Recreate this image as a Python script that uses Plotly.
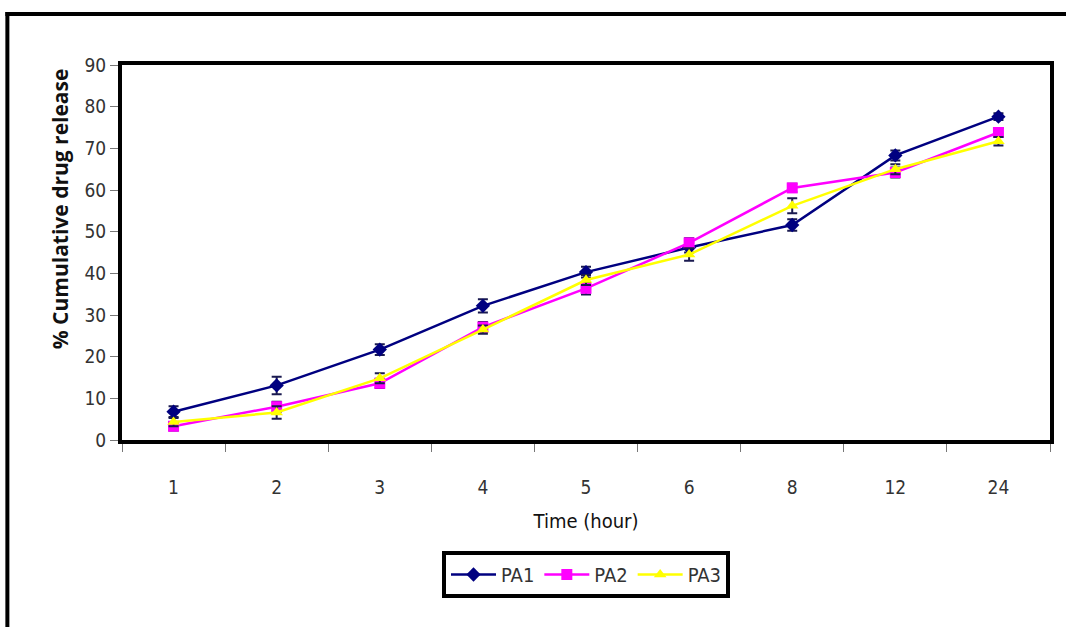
import plotly.graph_objects as go

time_labels = ["1", "2", "3", "4", "5", "6", "8", "12", "24"]
pa1 = [6.8, 13.1, 21.7, 32.2, 40.3, 46.2, 51.6, 68.3, 77.6]
pa2 = [3.3, 8.0, 13.6, 27.1, 36.4, 47.3, 60.5, 64.2, 73.8]
pa3 = [4.3, 6.6, 14.8, 26.5, 38.4, 44.5, 56.2, 65.0, 71.7]
pa1_err = [1.3, 2.1, 1.3, 1.6, 1.3, 1.2, 1.4, 1.2, 0.8]
pa2_err = [1.0, 1.2, 1.1, 1.2, 1.5, 1.1, 1.0, 1.2, 1.0]
pa3_err = [1.0, 1.5, 1.2, 1.0, 1.2, 1.5, 1.8, 1.2, 1.0]

FONT = "DejaVu Sans Condensed, Liberation Sans Narrow, Open Sans, sans-serif"
W, H = 1066, 627
L, R, T, B = 122, 13, 65, 187
PW, PH = W - L - R, H - T - B

def px(x):
    return (x - L) / PW

def py(y):
    return (H - B - y) / PH

fig = go.Figure()
series = [
    ("PA1", pa1, pa1_err, "#000080", "diamond", 11),
    ("PA2", pa2, pa2_err, "#FF00FF", "square", 11),
    ("PA3", pa3, pa3_err, "#FFFF00", "triangle-up", 11),
]
for name, vals, err, col, sym, sz in series:
    fig.add_trace(go.Scatter(
        x=time_labels, y=vals, name=name, mode="lines+markers",
        line=dict(color=col, width=2.5),
        marker=dict(symbol=sym, size=sz, color=col),
        error_y=dict(type="data", array=err, visible=True,
                     color="#1a1a50", thickness=2, width=5),
    ))

fig.update_layout(
    width=W, height=H,
    margin=dict(l=L, r=R, t=T, b=B),
    paper_bgcolor="white", plot_bgcolor="white",
    font=dict(family=FONT, size=18, color="#333333"),
    showlegend=True,
    legend=dict(orientation="h", x=0.5, xanchor="center", y=py(551), yanchor="top",
                bordercolor="black", borderwidth=4, bgcolor="white",
                font=dict(family=FONT, size=20, color="#333333"),
                itemwidth=45, tracegroupgap=0),
    xaxis=dict(type="category", range=[-0.5, 8.5], showgrid=False,
               showline=True, linecolor="black", linewidth=4, mirror=True,
               ticks="outside", tickson="boundaries", ticklen=8, tickwidth=1, tickcolor="#777777",
               ticklabelstandoff=27,
               tickfont=dict(family=FONT, size=19, color="#333333"),
               title=dict(text="Time (hour)", font=dict(family=FONT, size=20, color="#111111"), standoff=18),
               fixedrange=True),
    yaxis=dict(range=[0, 90], dtick=10, showgrid=False,
               showline=True, linecolor="black", linewidth=4, mirror=True,
               ticks="outside", ticklen=8, tickwidth=1, tickcolor="#777777",
               tickfont=dict(family=FONT, size=19, color="#333333"),
               zeroline=False, fixedrange=True),
    annotations=[dict(text="<b>% Cumulative drug release</b>", x=px(44), y=py(209),
                      xref="paper", yref="paper", showarrow=False, textangle=-90,
                      font=dict(family="Open Sans, sans-serif", size=21, color="#111111"))],
    shapes=[
        dict(type="line", xref="paper", yref="paper", x0=px(5), x1=px(1070), y0=py(14), y1=py(14),
             line=dict(color="black", width=4)),
        dict(type="line", xref="paper", yref="paper", x0=px(7), x1=px(7), y0=py(12), y1=py(630),
             line=dict(color="black", width=4)),
    ],
)

fig.write_html("out.html")
